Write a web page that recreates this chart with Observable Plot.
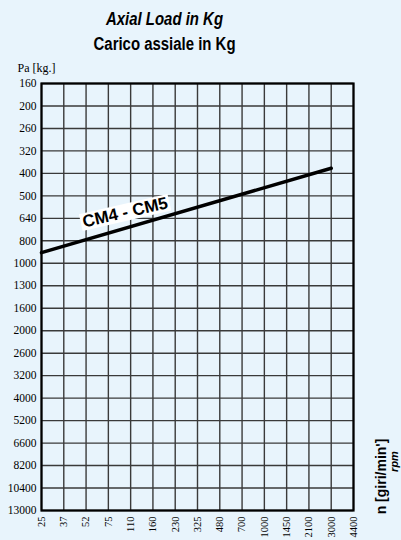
<!DOCTYPE html>
<html>
<head>
<meta charset="utf-8">
<script src="https://cdn.jsdelivr.net/npm/d3@7"></script>
<script src="https://cdn.jsdelivr.net/npm/@observablehq/plot@0.6"></script>
<style>
  html, body { margin: 0; padding: 0; background: #e8f4fc; width: 401px; height: 540px; overflow: hidden; }
  #titles { position: absolute; left: 0; top: 0; width: 330px; height: 55px; text-align: center;
    font-family: "Liberation Sans", Arial, sans-serif; font-weight: bold; color: #000; }
  #titles div { font-size: 18px; line-height: 25px; }
  #titles span { display: inline-block; transform: scaleX(0.83); transform-origin: center; white-space: nowrap; }
  #t1 { font-style: italic; padding-top: 7px; }
  #chart { position: absolute; left: 0; top: 55px; }
</style>
</head>
<body>
<div id="titles"><div id="t1"><span>Axial Load in Kg</span></div><div id="t2"><span>Carico assiale in Kg</span></div></div>
<div id="chart"></div>
<script>
const xTicks = [25, 37, 52, 75, 110, 160, 230, 325, 480, 700, 1000, 1450, 2100, 3000, 4400];
const yTicks = [160, 200, 260, 320, 400, 500, 640, 800, 1000, 1300, 1600, 2000, 2600, 3200, 4000, 5200, 6600, 8200, 10400, 13000];
const lineRpm = [25, 3000];
const lineLoad = [900, 380];
const seriesName = "CM4 - CM5";
const yTitle = "Pa [kg.]";
const xTitle1 = "n [giri/min']";
const xTitle2 = "rpm";

const lineData = lineRpm.map((r, i) => ({rpm: r, load: lineLoad[i]}));
const serif = "Liberation Serif, Times New Roman, serif";
const sans = "Liberation Sans, Arial, sans-serif";

const W = 401, H = 485, mL = 41, mR = 48, mT = 28, mB = 30;
// evenly spaced grid: piecewise log scales through the tick values
const xRange = xTicks.map((d, i) => mL + i * (W - mL - mR) / (xTicks.length - 1));
const yRange = yTicks.map((d, i) => mT + i * (H - mT - mB) / (yTicks.length - 1));

const chart = Plot.plot({
  width: W,
  height: H,
  marginLeft: mL,
  marginRight: mR,
  marginTop: mT,
  marginBottom: mB,
  style: {background: "transparent", color: "#000"},
  x: {type: "log", domain: xTicks, range: xRange, axis: null},
  y: {type: "log", domain: yTicks, range: yRange, axis: null},
  marks: [
    Plot.ruleX(xTicks, {stroke: "#3a3a3a", strokeWidth: 1.4}),
    Plot.ruleY(yTicks, {stroke: "#3a3a3a", strokeWidth: 1.4}),
    Plot.frame({stroke: "#000", strokeWidth: 2.2}),
    Plot.text(xTicks, {x: d => d, frameAnchor: "bottom", rotate: -90, textAnchor: "end", lineAnchor: "middle",
      dy: 6, text: d => String(d), fontFamily: serif, fontSize: 10.5, fill: "#000"}),
    Plot.text(yTicks, {y: d => d, frameAnchor: "left", textAnchor: "end", lineAnchor: "middle",
      dx: -5, text: d => String(d), fontFamily: serif, fontSize: 11.5, fill: "#000"}),
    Plot.line(lineData, {x: "rpm", y: "load", stroke: "#000", strokeWidth: 3.5}),
    Plot.text([seriesName], {x: 100, y: 600, text: d => d, rotate: -13, fontFamily: sans, fontWeight: "bold",
      fontSize: 17, fill: "#000", ariaLabel: "series-label"}),
    Plot.text([yTitle], {frameAnchor: "top-left", dx: -24, dy: -15, textAnchor: "start", lineAnchor: "middle",
      text: d => d, fontFamily: serif, fontSize: 12}),
    Plot.text([xTitle1], {frameAnchor: "bottom-right", dx: 28, dy: -34, rotate: -90, textAnchor: "middle",
      lineAnchor: "middle", text: d => d, fontFamily: sans, fontWeight: "bold", fontSize: 14}),
    Plot.text([xTitle2], {frameAnchor: "bottom-right", dx: 41, dy: -49, rotate: -90, textAnchor: "middle",
      lineAnchor: "middle", text: d => d, fontFamily: sans, fontWeight: "bold", fontStyle: "italic", fontSize: 11})
  ]
});
document.getElementById("chart").appendChild(chart);

// white box behind the series label
for (const t of chart.querySelectorAll("text")) {
  if (t.textContent !== seriesName) continue;
  const bb = t.getBBox();
  const pad = 2;
  const r = document.createElementNS("http://www.w3.org/2000/svg", "rect");
  r.setAttribute("x", bb.x - pad);
  r.setAttribute("y", bb.y + 1);
  r.setAttribute("width", bb.width + 2 * pad);
  r.setAttribute("height", bb.height - 2);
  r.setAttribute("fill", "#fff");
  r.setAttribute("stroke", "none");
  if (t.getAttribute("transform")) r.setAttribute("transform", t.getAttribute("transform"));
  t.parentNode.insertBefore(r, t);
}
</script>
</body>
</html>
